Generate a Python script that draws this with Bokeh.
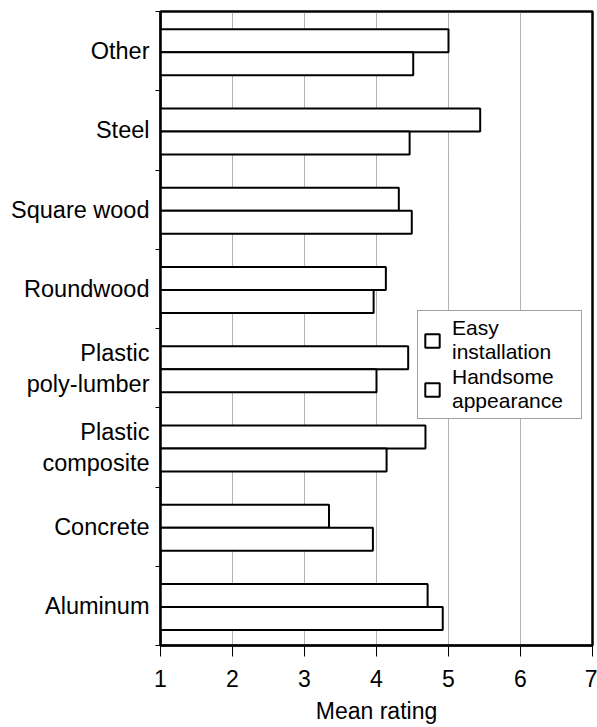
from bokeh.plotting import figure
from bokeh.models import Range1d, FixedTicker, Legend, LegendItem, ColumnDataSource
from bokeh.embed import file_html
from bokeh.resources import INLINE

# ---- data (bottom to top) ----
categories = ["Aluminum", "Concrete", "Plastic\ncomposite", "Plastic\npoly-lumber",
              "Roundwood", "Square wood", "Steel", "Other"]
easy_installation = [4.71, 3.34, 4.68, 4.44, 4.13, 4.31, 5.44, 5.00]
handsome_appearance = [4.92, 3.95, 4.14, 4.00, 3.96, 4.49, 4.46, 4.51]
x_ticks = [1, 2, 3, 4, 5, 6, 7]
x_title = "Mean rating"

FONT = "Liberation Sans"

idx = list(range(len(categories)))
centers = [i + 0.5 for i in idx]
src = ColumnDataSource(dict(
    y_easy=[c - 0.015 + 0.145 for c in centers],
    y_hand=[c - 0.015 - 0.145 for c in centers],
    easy=easy_installation,
    hand=handsome_appearance,
    left=[x_ticks[0]] * len(categories),
))

p = figure(width=597, height=727, output_backend="svg", toolbar_location=None,
           x_range=Range1d(x_ticks[0], x_ticks[-1]), y_range=Range1d(0, len(categories)),
           min_border_left=160, min_border_right=5, min_border_top=11, min_border_bottom=82)

r_easy = p.hbar(y="y_easy", left="left", right="easy", height=0.29, source=src,
                fill_color="white", line_color="black", line_width=2)
r_hand = p.hbar(y="y_hand", left="left", right="hand", height=0.29, source=src,
                fill_color="white", line_color="black", line_width=2)

# axes
p.xaxis.ticker = FixedTicker(ticks=x_ticks, minor_ticks=[])
p.xaxis.major_tick_out = 11
p.xaxis.major_tick_in = 0
p.xaxis.major_label_standoff = 13
p.xaxis.axis_label = x_title
p.xaxis.axis_label_standoff = 8

p.yaxis.ticker = FixedTicker(ticks=centers, minor_ticks=[float(i) for i in range(len(categories) + 1)])
p.yaxis.major_label_overrides = {c: lab for c, lab in zip(centers, categories)}
p.yaxis.major_tick_out = 0
p.yaxis.major_tick_in = 0
p.yaxis.minor_tick_out = 5
p.yaxis.minor_tick_in = 0
p.yaxis.major_label_standoff = 6

for ax in (p.xaxis[0], p.yaxis[0]):
    ax.axis_line_color = "black"
    ax.axis_line_width = 2
    ax.major_tick_line_color = "black"
    ax.minor_tick_line_color = "black"
    ax.major_label_text_font = FONT
    ax.major_label_text_color = "black"
    ax.axis_label_text_font = FONT
    ax.axis_label_text_font_size = "23px"
    ax.axis_label_text_font_style = "normal"
    ax.axis_label_text_color = "black"
p.xaxis.major_label_text_font_size = "23px"
p.yaxis.major_label_text_font_size = "23.5px"

# grid
p.xgrid.ticker = FixedTicker(ticks=x_ticks[1:-1])
p.xgrid.grid_line_color = "#666666"
p.xgrid.grid_line_dash = "1 1"
p.xgrid.grid_line_width = 1
p.ygrid.visible = False

p.outline_line_color = "black"
p.outline_line_width = 2.5
p.outline_line_alpha = 1

legend = Legend(items=[LegendItem(label="Easy\ninstallation", renderers=[r_easy]),
                       LegendItem(label="Handsome\nappearance", renderers=[r_hand])],
                location=(257, 226))
legend.label_text_font = FONT
legend.label_text_font_size = "21px"
legend.label_text_line_height = 0.87
legend.label_text_color = "black"
legend.glyph_width = 18
legend.glyph_height = 17
legend.label_standoff = 11
legend.label_width = 124
legend.padding = 5
legend.spacing = 1
legend.margin = 0
legend.border_line_color = "#444444"
legend.border_line_width = 1.5
legend.background_fill_alpha = 1
p.add_layout(legend, "center")

open("out.html", "w").write(file_html(p, INLINE))
